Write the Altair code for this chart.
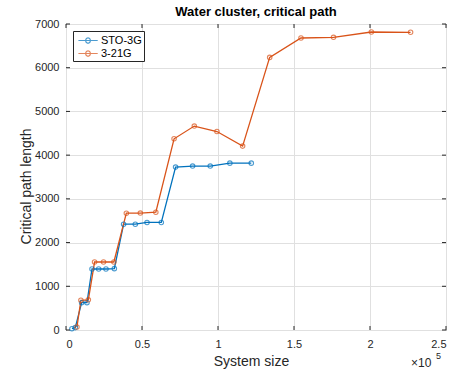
import altair as alt
import pandas as pd

# Critical path length versus system size for two basis sets
sto3g_size = [3900, 6100, 10300, 13800, 17100, 21500, 26300, 31800, 37900,
              45600, 53300, 62700, 72100, 83300, 94900, 107800, 121900]
sto3g_path = [30, 55, 625, 625, 1395, 1395, 1395, 1404, 2420,
              2420, 2460, 2460, 3726, 3750, 3750, 3817, 3817]

b321g_size = [7200, 9800, 14700, 18800, 24700, 31500, 39700, 48900, 59100,
              71100, 84400, 99300, 116200, 134000, 154600, 176000, 200900, 226700]
b321g_path = [70, 680, 690, 1555, 1555, 1555, 2672, 2675, 2695,
              4374, 4665, 4540, 4207, 6236, 6680, 6695, 6817, 6810]

series_names = ["STO-3G", "3-21G"]
series_colors = ["#0072BD", "#D95319"]

x_ticks = [0, 50000, 100000, 150000, 200000, 250000]
y_ticks = [0, 1000, 2000, 3000, 4000, 5000, 6000, 7000]

W, H = 380, 306
TICK = 4
INK = "#262626"
FONT = "Liberation Sans"

df = pd.concat([
    pd.DataFrame({"size": sto3g_size, "cp": sto3g_path, "basis": series_names[0]}),
    pd.DataFrame({"size": b321g_size, "cp": b321g_path, "basis": series_names[1]}),
], ignore_index=True)

xs = alt.Scale(domain=[0, 250000], nice=False, zero=False)
ys = alt.Scale(domain=[0, 7000], nice=False, zero=False)

# line + open circle legend glyph (drawn a little to the right of the symbol slot)
glyph = ("M-0.63,0L2.34,0M0.5,0A0.354,0.354,0,1,0,1.2,0"
         "A0.354,0.354,0,1,0,0.5,0")

color = alt.Color(
    "basis:N",
    scale=alt.Scale(domain=series_names, range=series_colors),
    legend=alt.Legend(
        title=None, orient="top-left", offset=7, padding=2,
        strokeColor=INK, fillColor="white", cornerRadius=0,
        symbolType=glyph, symbolSize=169, symbolStrokeWidth=1.2,
        symbolFillColor="transparent",
        labelFont=FONT, labelFontSize=11, labelColor="black",
        labelOffset=11, rowPadding=0,
    ),
)

x_axis = alt.Axis(values=x_ticks, labelExpr="datum.value / 100000",
                  grid=True, ticks=False, domain=False, title="System size",
                  labelPadding=8, titleX=185, titleY=35,
                  titleBaseline="alphabetic", titleAlign="center")
y_axis = alt.Axis(values=y_ticks, format="d", grid=True, ticks=False,
                  domain=False, title="Critical path length", labelPadding=7,
                  titleX=-36, titleY=162, titleAngle=-90,
                  titleBaseline="alphabetic", titleAlign="center")

base = alt.Chart(df).encode(
    x=alt.X("size:Q", scale=xs, axis=x_axis),
    y=alt.Y("cp:Q", scale=ys, axis=y_axis),
    color=color,
)
lines = base.mark_line(strokeWidth=1.3)
points = base.mark_point(shape="circle", filled=False, size=20, strokeWidth=1.1)

# inward tick marks on all four sides of the box
xt = alt.Chart(pd.DataFrame({"size": x_ticks}))
yt = alt.Chart(pd.DataFrame({"cp": y_ticks}))
tick_style = dict(color=INK, strokeWidth=1)
ticks_bottom = xt.mark_rule(**tick_style).encode(
    x=alt.X("size:Q", scale=xs), y=alt.value(H), y2=alt.value(H - TICK))
ticks_top = xt.mark_rule(**tick_style).encode(
    x=alt.X("size:Q", scale=xs), y=alt.value(0), y2=alt.value(TICK))
ticks_left = yt.mark_rule(**tick_style).encode(
    y=alt.Y("cp:Q", scale=ys), x=alt.value(0), x2=alt.value(TICK))
ticks_right = yt.mark_rule(**tick_style).encode(
    y=alt.Y("cp:Q", scale=ys), x=alt.value(W), x2=alt.value(W - TICK))

# axis exponent
exp_base = alt.Chart(pd.DataFrame({"t": ["×10"]})).mark_text(
    align="left", baseline="alphabetic", font=FONT, fontSize=12, color=INK
).encode(text="t:N", x=alt.value(345), y=alt.value(343))
exp_pow = alt.Chart(pd.DataFrame({"t": ["5"]})).mark_text(
    align="left", baseline="alphabetic", font=FONT, fontSize=9, color=INK
).encode(text="t:N", x=alt.value(370), y=alt.value(335))

chart = alt.layer(
    lines, points, ticks_bottom, ticks_top, ticks_left, ticks_right,
    exp_base, exp_pow,
).properties(
    width=W, height=H,
    title=alt.Title("Water cluster, critical path", font=FONT, fontSize=13,
                    fontWeight="bold", color="black", offset=-1),
    autosize=alt.AutoSizeParams(type="none"),
    padding={"left": 66, "top": 24, "right": 9, "bottom": 41},
    background="white",
).configure_view(
    stroke=INK, strokeWidth=1,
).configure_axis(
    labelFont=FONT, labelFontSize=11, labelColor=INK,
    titleFont=FONT, titleFontSize=14, titleFontWeight="normal", titleColor=INK,
    gridColor="#e0e0e0", gridWidth=1,
)

chart.save("out.html", embed_options={"renderer": "svg", "actions": False})
